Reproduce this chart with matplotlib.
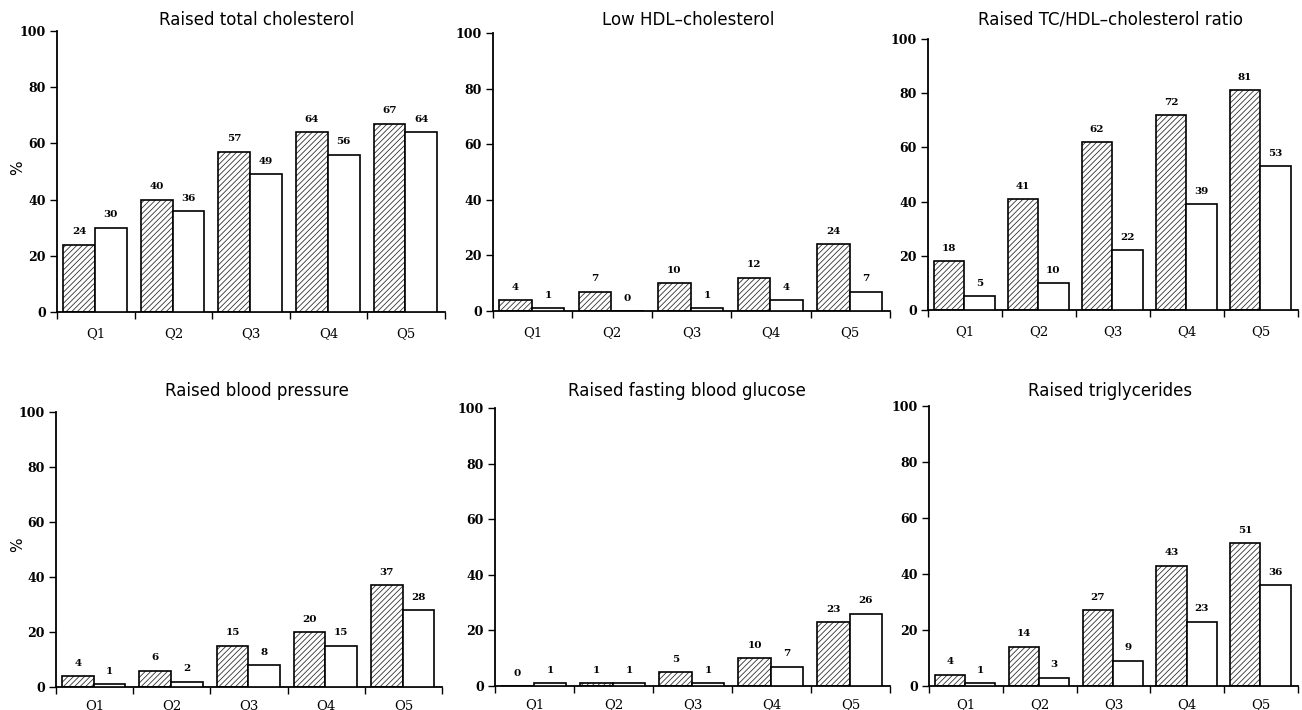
import numpy as np
import matplotlib
matplotlib.use("Agg")
import matplotlib.pyplot as plt
from matplotlib.ticker import FixedLocator, NullFormatter, FixedFormatter

plt.rcParams['hatch.linewidth'] = 0.6

categories = ["Q1", "Q2", "Q3", "Q4", "Q5"]
titles = ["Raised total cholesterol", "Low HDL\u2013cholesterol", "Raised TC/HDL\u2013cholesterol ratio",
          "Raised blood pressure", "Raised fasting blood glucose", "Raised triglycerides"]

tc_hatched = [24, 40, 57, 64, 67]
tc_open = [30, 36, 49, 56, 64]
hdl_hatched = [4, 7, 10, 12, 24]
hdl_open = [1, 0, 1, 4, 7]
ratio_hatched = [18, 41, 62, 72, 81]
ratio_open = [5, 10, 22, 39, 53]
bp_hatched = [4, 6, 15, 20, 37]
bp_open = [1, 2, 8, 15, 28]
glu_hatched = [0, 1, 5, 10, 23]
glu_open = [1, 1, 1, 7, 26]
tg_hatched = [4, 14, 27, 43, 51]
tg_open = [1, 3, 9, 23, 36]

yticks = [0, 20, 40, 60, 80, 100]

series = [(tc_hatched, tc_open), (hdl_hatched, hdl_open), (ratio_hatched, ratio_open),
          (bp_hatched, bp_open), (glu_hatched, glu_open), (tg_hatched, tg_open)]

W, H = 1302, 710
fig = plt.figure(figsize=(W / 100, H / 100), dpi=100)

# (left, right, top(y=100), bottom(y=0)) in pixels
boxes = [(57, 445, 31, 312), (493, 890, 33, 311), (928, 1298, 39, 310),
         (56, 442, 412, 687), (495, 890, 408, 686), (929, 1298, 406, 686)]
title_pos = [(257, 20), (688, 20), (1110, 20), (257, 391), (687, 391), (1110, 391)]

serif = "DejaVu Serif"
x = np.arange(len(categories))
off, bw = 0.08, 0.41

for i, ((l, r, t, b), (hv, ov)) in enumerate(zip(boxes, series)):
    ax = fig.add_axes([l / W, 1 - b / H, (r - l) / W, (b - t) / H])
    # hatch layer
    ax.bar(x + off, hv, width=bw, align='edge', facecolor='white', edgecolor='#333333',
           hatch='//////', linewidth=0, zorder=2)
    ax.bar(x + off, hv, width=bw, align='edge', facecolor='none', edgecolor='black',
           linewidth=1.2, zorder=3)
    ax.bar(x + off + bw, ov, width=bw, align='edge', facecolor='white', edgecolor='black',
           linewidth=1.2, zorder=3)
    for xi, v in zip(x + off + bw / 2, hv):
        ax.annotate(str(v), (xi, v), xytext=(0, 6), textcoords='offset points',
                    ha='center', va='bottom', fontsize=7.5, family=serif, fontweight='bold')
    for xi, v in zip(x + off + 1.5 * bw, ov):
        ax.annotate(str(v), (xi, v), xytext=(0, 6), textcoords='offset points',
                    ha='center', va='bottom', fontsize=7.5, family=serif, fontweight='bold')

    ax.set_xlim(0, len(categories))
    ax.set_ylim(0, 100)
    ax.spines['top'].set_visible(False)
    ax.spines['right'].set_visible(False)
    ax.spines['left'].set_linewidth(1.3)
    ax.spines['bottom'].set_linewidth(1.3)

    ax.set_yticks(yticks)
    ax.set_yticklabels([str(v) for v in yticks], family=serif, fontsize=9, fontweight='bold')
    ax.tick_params(axis='y', direction='out', length=5, width=1.0, pad=3)

    ax.xaxis.set_major_locator(FixedLocator(np.arange(len(categories) + 1)))
    ax.xaxis.set_major_formatter(NullFormatter())
    ax.xaxis.set_minor_locator(FixedLocator(x + 0.5))
    ax.xaxis.set_minor_formatter(FixedFormatter(categories))
    ax.tick_params(axis='x', which='major', direction='out', length=5, width=1.0)
    ax.tick_params(axis='x', which='minor', length=0, pad=11 if i < 3 else 9)
    for lab in ax.xaxis.get_minorticklabels():
        lab.set_family(serif)
        lab.set_fontsize(9.5)

    tx, ty = title_pos[i]
    fig.text(tx / W, 1 - ty / H, titles[i], ha='center', va='center',
             fontsize=12, family='DejaVu Sans')

fig.text(18 / W, 1 - 168 / H, "%", rotation=90, ha='center', va='center', fontsize=11, family='DejaVu Sans')
fig.text(18 / W, 1 - 545 / H, "%", rotation=90, ha='center', va='center', fontsize=11, family='DejaVu Sans')

fig.savefig("out.png", dpi=100)
